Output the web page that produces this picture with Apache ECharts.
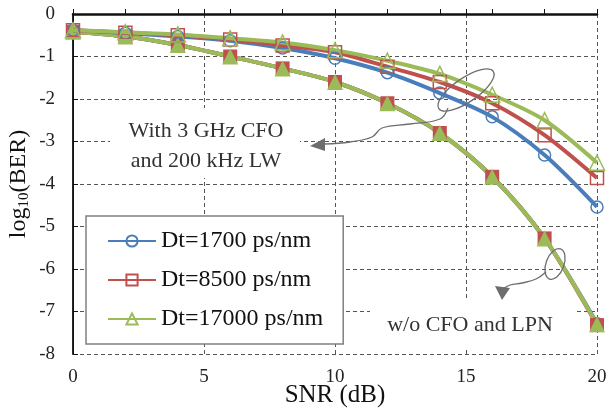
<!DOCTYPE html>
<html>
<head>
<meta charset="utf-8">
<script src="https://cdn.jsdelivr.net/npm/echarts@6/dist/echarts.min.js"></script>
<style>
  html, body { margin: 0; padding: 0; background: #fff; }
  #chart { width: 608px; height: 408px; }
</style>
</head>
<body>
<div id="chart"></div>
<script>
// SNR points (dB)
const snr = [0, 2, 4, 6, 8, 10, 12, 14, 16, 18, 20];

// with 3 GHz CFO and 200 kHz LW
const cfo1700 = [-0.38, -0.45, -0.53, -0.63, -0.80, -1.04, -1.38, -1.86, -2.42, -3.32, -4.54];
const cfo8500 = [-0.38, -0.44, -0.50, -0.60, -0.74, -0.90, -1.24, -1.60, -2.10, -2.85, -3.86];
const cfo17000 = [-0.38, -0.43, -0.48, -0.57, -0.67, -0.85, -1.10, -1.41, -1.90, -2.50, -3.50];

// w/o CFO and LPN
const noCfo1700 = [-0.42, -0.53, -0.73, -1.00, -1.28, -1.60, -2.10, -2.80, -3.83, -5.28, -7.28];
const noCfo8500 = [-0.42, -0.53, -0.73, -1.00, -1.28, -1.60, -2.10, -2.80, -3.83, -5.28, -7.32];
const noCfo17000 = [-0.42, -0.53, -0.73, -1.00, -1.28, -1.60, -2.10, -2.80, -3.83, -5.28, -7.30];

const names = ['Dt=1700 ps/nm', 'Dt=8500 ps/nm', 'Dt=17000 ps/nm'];
const colors = ['#4a7ebb', '#c0504d', '#9bbb59'];
const symbols = ['circle', 'rect', 'triangle'];
const symSizes = [12, 13, 15];

const serif = 'Liberation Serif';
const pairs = ys => snr.map((x, i) => [x, ys[i]]);

const mySeries = [];
[cfo1700, cfo8500, cfo17000].forEach((ys, i) => {
  mySeries.push({
    name: names[i], type: 'line', smooth: 0.3, data: pairs(ys),
    symbol: symbols[i], symbolSize: symSizes[i], z: 3,
    lineStyle: { color: colors[i], width: 4 },
    itemStyle: { color: 'rgba(255,255,255,0)', borderColor: colors[i], borderWidth: 1.5 }
  });
});
[noCfo1700, noCfo8500, noCfo17000].forEach((ys, i) => {
  mySeries.push({
    name: names[i] + ' ', type: 'line', smooth: 0.3, data: pairs(ys),
    symbol: symbols[i], symbolSize: symSizes[i] + 1, z: 2,
    lineStyle: { color: colors[i], width: 4 },
    itemStyle: { color: i === 2 ? colors[i] : colors[1], borderWidth: 0 }
  });
});

const dash = { type: [4, 3], color: '#555', width: 1 };
const grey = '#6d6d6d';

const myChart = echarts.init(document.getElementById('chart'));
myChart.setOption({
  animation: false,
  grid: { left: 73, right: 11, top: 14, bottom: 54, outerBoundsMode: 'none', containLabel: false },
  legend: {
    data: names, orient: 'vertical', left: 86, top: 216,
    padding: [12, 20, 12, 21], itemGap: 13, itemWidth: 48, itemHeight: 14,
    backgroundColor: '#fff', borderColor: '#808080', borderWidth: 1.5,
    textStyle: { fontFamily: serif, fontSize: 24, color: '#111', lineHeight: 26 }
  },
  xAxis: [
    {
      type: 'value', min: 0, max: 20, interval: 5,
      name: 'SNR (dB)', nameLocation: 'middle', nameGap: 29, nameMoveOverlap: false,
      nameTextStyle: { fontFamily: serif, fontSize: 25, color: '#111' },
      axisLine: { lineStyle: { color: '#111', width: 2.5 } },
      axisTick: { inside: true, length: 5, lineStyle: { color: '#111' } },
      axisLabel: { fontFamily: serif, fontSize: 19, color: '#222', margin: 14 },
      splitLine: { show: true, lineStyle: dash }
    },
    {
      type: 'value', min: 0, max: 20, interval: 2, position: 'bottom',
      axisLine: { show: false },
      axisTick: { inside: true, length: 5, lineStyle: { color: '#111' } },
      axisLabel: { show: false }, splitLine: { show: false }
    }
  ],
  yAxis: [
    {
      type: 'value', min: -8, max: 0, interval: 1,
      name: '{n|log}{s|10}{n|(BER)}', nameLocation: 'middle', nameGap: 41, nameMoveOverlap: false,
      nameTextStyle: {
        rich: {
          n: { fontFamily: serif, fontSize: 24, color: '#111' },
          s: { fontFamily: serif, fontSize: 15, color: '#111', padding: [12, 0, 0, 0] }
        }
      },
      axisLine: { lineStyle: { color: '#111', width: 1.8 } },
      axisTick: { inside: true, length: 5, lineStyle: { color: '#111' } },
      axisLabel: { fontFamily: serif, fontSize: 19, color: '#222', margin: 18 },
      splitLine: { show: true, lineStyle: dash }
    },
    {
      type: 'value', min: -8, max: 0, interval: 1, position: 'right',
      axisLine: { show: true, lineStyle: { color: '#111', width: 1 } },
      axisTick: { show: false }, axisLabel: { show: false }, splitLine: { show: false }
    }
  ],
  graphic: [
    { type: 'rect', z: 1, shape: { x: 110, y: 108, width: 190, height: 70 }, style: { fill: '#fff' } },
    { type: 'text', z: 2, x: 206, y: 131, style: { text: 'With 3 GHz CFO', font: '22px "Liberation Serif"', fill: '#333', align: 'center', verticalAlign: 'middle' } },
    { type: 'text', z: 2, x: 206, y: 161, style: { text: 'and 200 kHz LW', font: '22px "Liberation Serif"', fill: '#333', align: 'center', verticalAlign: 'middle' } },
    { type: 'rect', z: 1, shape: { x: 370, y: 300, width: 205, height: 50 }, style: { fill: '#fff' } },
    { type: 'text', z: 2, x: 470, y: 325, style: { text: 'w/o CFO and LPN', font: '22px "Liberation Serif"', fill: '#333', align: 'center', verticalAlign: 'middle' } },
    // arrow 1
    { type: 'ellipse', z: 5, x: 466, y: 90, rotation: 0.6, shape: { cx: 0, cy: 0, rx: 33, ry: 12 }, style: { fill: 'none', stroke: grey, lineWidth: 1.3 } },
    { type: 'polyline', z: 5, shape: { smooth: 0.4, points: [[448, 108], [440, 119], [410, 124], [382, 128], [372, 137], [350, 142], [324, 144]] }, style: { fill: 'none', stroke: grey, lineWidth: 1.3 } },
    { type: 'polygon', z: 5, shape: { points: [[310, 146], [325, 138], [325, 151]] }, style: { fill: grey } },
    // arrow 2
    { type: 'ellipse', z: 5, x: 555, y: 264, rotation: -0.35, shape: { cx: 0, cy: 0, rx: 9, ry: 16 }, style: { fill: 'none', stroke: grey, lineWidth: 1.3 } },
    { type: 'polyline', z: 5, shape: { smooth: 0.4, points: [[546, 272], [536, 279], [522, 283], [510, 285], [503, 289]] }, style: { fill: 'none', stroke: grey, lineWidth: 1.3 } },
    { type: 'polygon', z: 5, shape: { points: [[502, 300], [495, 286], [510, 288]] }, style: { fill: grey } }
  ],
  series: mySeries
});
</script>
</body>
</html>
